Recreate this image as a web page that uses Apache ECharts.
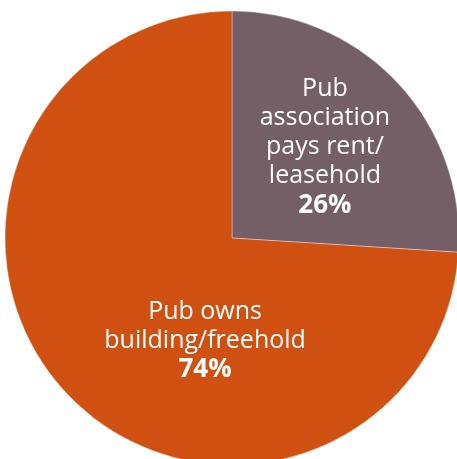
<!DOCTYPE html>
<html>
<head>
<meta charset="utf-8">
<script src="https://cdn.jsdelivr.net/npm/echarts@6/dist/echarts.min.js"></script>
<style>html,body{margin:0;padding:0;background:#fff;}#c{width:457px;height:459px;}</style>
</head>
<body>
<div id="c"></div>
<script>
var categories = ['Pub\nassociation\npays rent/\nleasehold', 'Pub owns\nbuilding/freehold'];
var values = [26, 74];
var colors = ['#745f67', '#d05012'];
var labelShift = [[8, -11], [58, 23]];

var chart = echarts.init(document.getElementById('c'));
chart.setOption({
  animation: false,
  series: [{
    type: 'pie',
    center: [232, 238],
    radius: 227,
    startAngle: 90,
    clockwise: true,
    silent: true,
    itemStyle: { borderColor: 'rgba(255,255,255,0.6)', borderWidth: 0.6 },
    label: {
      position: 'inside',
      color: '#fff',
      fontFamily: 'Open Sans',
      formatter: function (p) {
        return p.name.split('\n').map(function (s) { return '{a|' + s + '}'; }).join('\n') + '\n{b|' + p.value + '%}';
      },
      rich: {
        a: { fontFamily: 'Open Sans', fontSize: 25, lineHeight: 29, color: '#fff' },
        b: { fontFamily: 'Open Sans', fontSize: 26, fontWeight: 'bold', lineHeight: 29, color: '#fff' }
      }
    },
    labelLine: { show: false },
    labelLayout: function (params) {
      var s = labelShift[params.dataIndex];
      return { dx: s[0], dy: s[1] };
    },
    data: categories.map(function (c, i) {
      return { name: c, value: values[i], itemStyle: { color: colors[i] } };
    })
  }]
});
</script>
</body>
</html>
